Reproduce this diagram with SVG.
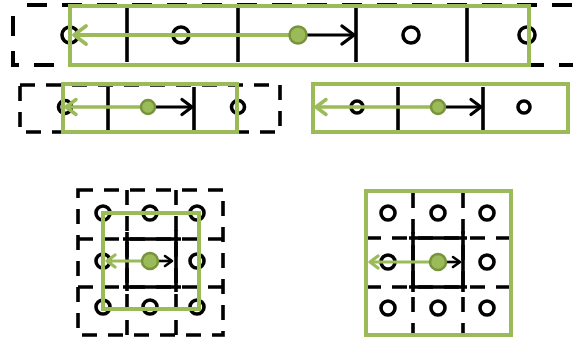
<svg xmlns="http://www.w3.org/2000/svg" width="573" height="340" viewBox="0 0 573 340">
<style>
.dash{fill:none;stroke:#000;stroke-width:4;stroke-dasharray:20 15;stroke-dashoffset:21}
.dash2{fill:none;stroke:#000;stroke-width:3.6;stroke-dasharray:15 11}
.grn{fill:none;stroke:#9BBB59;stroke-width:4}
.blk{fill:none;stroke:#000;stroke-width:3.6}
.cir{fill:#fff;stroke:#000;stroke-width:3.6}
.dot{fill:#9BBB59;stroke:#77933C;stroke-width:2.5}
.ga{fill:none;stroke:#9BBB59;stroke-width:3.8}
.ba{fill:none;stroke:#000;stroke-width:3.2}
</style>
<defs>
<marker id="gL" markerUnits="userSpaceOnUse" markerWidth="20" markerHeight="24" viewBox="-15 -12 18 24" refX="0" refY="0" orient="auto"><path d="M-12,-9 L0,0 L-12,9" fill="none" stroke="#9BBB59" stroke-width="3.8" stroke-linecap="round" stroke-linejoin="round"/></marker>
<marker id="gM" markerUnits="userSpaceOnUse" markerWidth="18" markerHeight="20" viewBox="-13 -10 16 20" refX="0" refY="0" orient="auto"><path d="M-10,-7.5 L0,0 L-10,7.5" fill="none" stroke="#9BBB59" stroke-width="3.5" stroke-linecap="round" stroke-linejoin="round"/></marker>
<marker id="gS" markerUnits="userSpaceOnUse" markerWidth="14" markerHeight="16" viewBox="-10 -8 12 16" refX="0" refY="0" orient="auto"><path d="M-8,-6 L0,0 L-8,6" fill="none" stroke="#9BBB59" stroke-width="3.2" stroke-linecap="round" stroke-linejoin="round"/></marker>
<marker id="bL" markerUnits="userSpaceOnUse" markerWidth="20" markerHeight="24" viewBox="-15 -12 18 24" refX="0" refY="0" orient="auto"><path d="M-12,-9 L0,0 L-12,9" fill="none" stroke="#000" stroke-width="3.4" stroke-linecap="round" stroke-linejoin="round"/></marker>
<marker id="bM" markerUnits="userSpaceOnUse" markerWidth="18" markerHeight="20" viewBox="-13 -10 16 20" refX="0" refY="0" orient="auto"><path d="M-10,-7.5 L0,0 L-10,7.5" fill="none" stroke="#000" stroke-width="3.2" stroke-linecap="round" stroke-linejoin="round"/></marker>
<marker id="bS" markerUnits="userSpaceOnUse" markerWidth="14" markerHeight="16" viewBox="-10 -8 12 16" refX="0" refY="0" orient="auto"><path d="M-7,-5 L0,0 L-7,5" fill="none" stroke="#000" stroke-width="2.6" stroke-linecap="round" stroke-linejoin="round"/></marker>
</defs>
<rect width="573" height="340" fill="#fff"/>

<g id="row1">
<rect class="dash" x="13" y="5" width="575" height="60"/>
<path class="blk" d="M127,8V62M238,8V62M356,8V62M467,8V62"/>
<circle class="cir" cx="70" cy="35" r="8"/>
<circle class="cir" cx="181" cy="35" r="8"/>
<circle class="cir" cx="411" cy="35" r="8"/>
<circle class="cir" cx="527" cy="35" r="8"/>
<rect class="grn" x="70" y="6" width="459" height="59"/>
</g>

<g id="row2left">
<rect class="dash2" x="20" y="85" width="260" height="47"/>
<path class="blk" d="M108,87V130M194,87V130"/>
<circle class="cir" cx="65" cy="107" r="6.5"/>
<circle class="cir" cx="238" cy="107" r="6.5"/>
<rect class="grn" x="63" y="84" width="174" height="48"/>
</g>

<g id="row2right">
<path class="blk" d="M398,87V130M483,87V130"/>
<circle class="cir" cx="357" cy="107" r="6"/>
<circle class="cir" cx="524" cy="107" r="6"/>
<rect class="grn" x="313" y="84" width="255" height="48"/>
</g>

<g id="gridleft">
<rect class="dash2" x="78" y="190" width="145" height="145"/>
<path class="dash2" d="M78,239H223M78,287H223M127,190V335M176,190V335"/>
<path class="blk" d="M123,239H181M123,287H181M127,232V291M176,230V292"/>
<circle class="cir" cx="103" cy="213" r="7"/>
<circle class="cir" cx="150" cy="213" r="7"/>
<circle class="cir" cx="197" cy="213" r="7"/>
<circle class="cir" cx="103" cy="261" r="7"/>
<circle class="cir" cx="197" cy="261" r="7"/>
<circle class="cir" cx="103" cy="307" r="7"/>
<circle class="cir" cx="150" cy="307" r="7"/>
<circle class="cir" cx="197" cy="307" r="7"/>
<rect class="grn" x="103" y="213" width="96" height="96"/>
</g>

<g id="gridright">
<path class="dash2" d="M366,238H511M366,287H511M413,193V335M463,193V335"/>
<path class="blk" d="M409,238H467M409,287H467M413,232V292M463,231V292"/>
<circle class="cir" cx="388" cy="213" r="7"/>
<circle class="cir" cx="438" cy="213" r="7"/>
<circle class="cir" cx="487" cy="213" r="7"/>
<circle class="cir" cx="388" cy="262" r="7"/>
<circle class="cir" cx="487" cy="262" r="7"/>
<circle class="cir" cx="388" cy="308" r="7"/>
<circle class="cir" cx="438" cy="308" r="7"/>
<circle class="cir" cx="487" cy="308" r="7"/>
<rect class="grn" x="366" y="191" width="145" height="144"/>
</g>

<g id="connectors">
<line class="ga" x1="298" y1="35" x2="74" y2="35" marker-end="url(#gL)"/>
<line class="ba" x1="298" y1="35" x2="354" y2="35" marker-end="url(#bL)"/>
<line class="ga" style="stroke-width:3.4" x1="148" y1="107" x2="66" y2="107" marker-end="url(#gM)"/>
<line class="ba" x1="148" y1="107" x2="192" y2="107" marker-end="url(#bM)"/>
<line class="ga" style="stroke-width:3.4" x1="438" y1="107" x2="316" y2="107" marker-end="url(#gM)"/>
<line class="ba" x1="438" y1="107" x2="481" y2="107" marker-end="url(#bM)"/>
<line class="ga" style="stroke-width:3.2" x1="150" y1="261" x2="107" y2="261" marker-end="url(#gS)"/>
<line class="ba" style="stroke-width:2.6" x1="150" y1="261" x2="172" y2="261" marker-end="url(#bS)"/>
<line class="ga" style="stroke-width:3.2" x1="438" y1="262" x2="370" y2="262" marker-end="url(#gS)"/>
<line class="ba" style="stroke-width:2.6" x1="438" y1="262" x2="460" y2="262" marker-end="url(#bS)"/>
<circle class="dot" cx="298" cy="35" r="8.5"/>
<circle class="dot" cx="148" cy="107" r="7"/>
<circle class="dot" cx="438" cy="107" r="7"/>
<circle class="dot" cx="150" cy="261" r="8"/>
<circle class="dot" cx="438" cy="262" r="8"/>
</g>
</svg>
